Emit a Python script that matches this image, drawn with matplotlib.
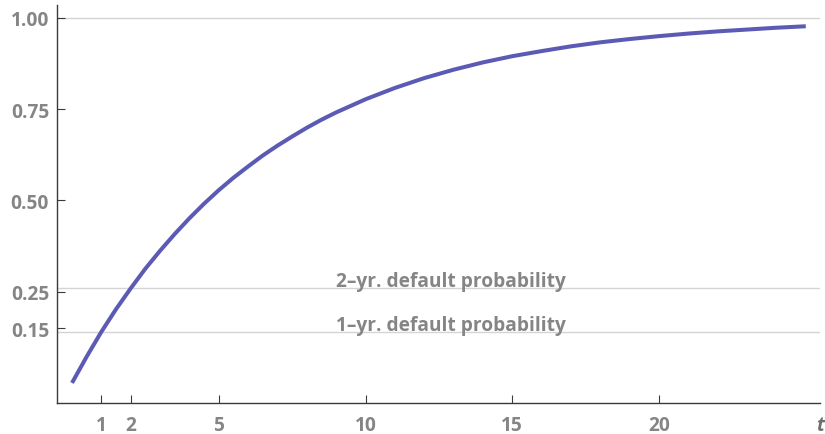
import numpy as np
import matplotlib
matplotlib.use("Agg")
import matplotlib.pyplot as plt

# cumulative default probability
t_years = [0, 0.5, 1, 1.5, 2, 2.5, 3, 3.5, 4, 4.5, 5, 5.5, 6, 6.5, 7, 7.5,
           8, 8.5, 9, 9.5, 10, 11, 12, 13, 14, 15, 16, 17, 18, 19, 20,
           21, 22, 23, 24, 25]
default_prob = [0.000, 0.072, 0.140, 0.202, 0.259, 0.313, 0.362, 0.408,
                0.451, 0.491, 0.528, 0.562, 0.593, 0.623, 0.650, 0.675,
                0.699, 0.721, 0.741, 0.759, 0.777, 0.808, 0.835, 0.858,
                0.878, 0.895, 0.909, 0.922, 0.933, 0.942, 0.950, 0.957,
                0.963, 0.968, 0.973, 0.977]

# reference lines and their labels
grid_levels = [1.00, 0.259, 0.139]
annot_labels = ["2\u2013yr. default probability", "1\u2013yr. default probability"]
annot_levels = [0.259, 0.139]
annot_x = 9.0

x_ticks = [1, 2, 5, 10, 15, 20]
y_ticks = [0.15, 0.25, 0.50, 0.75, 1.00]
y_tick_labels = ["0.15", "0.25", "0.50", "0.75", "1.00"]

LINE_COLOR = "#5B5BB5"
TEXT_GRAY = "#858585"
AXIS_COLOR = "#3a3a3a"

plt.rcParams['font.family'] = ['Open Sans', 'DejaVu Sans']

fig = plt.figure(figsize=(8.25, 4.35), dpi=100)
ax = fig.add_axes([0.0695, 0.0713, 0.925, 0.9147])

for lvl in grid_levels:
    ax.axhline(lvl, color="#d4d4d4", linewidth=1.0, zorder=1)

ax.plot(t_years, default_prob, color=LINE_COLOR, linewidth=2.9,
        solid_capstyle='butt', solid_joinstyle='round', zorder=3)

for lbl, lvl in zip(annot_labels, annot_levels):
    ax.annotate(lbl, xy=(annot_x, lvl), xytext=(0, 1.5),
                textcoords='offset points', ha='left', va='baseline',
                fontsize=13.8, fontweight='bold', color=TEXT_GRAY, zorder=4)

ax.set_xlim(-0.5, 25.5)
ax.set_ylim(-0.055, 1.035)

ax.set_xticks(x_ticks)
ax.set_xticklabels([str(v) for v in x_ticks])
ax.set_yticks(y_ticks)
ax.set_yticklabels(y_tick_labels)

ax.tick_params(direction='in', length=5.8, width=0.8, color=AXIS_COLOR,
               labelsize=13.8, labelcolor=TEXT_GRAY)
ax.tick_params(axis='x', pad=9)
ax.tick_params(axis='y', pad=6)
for lab in ax.get_xticklabels() + ax.get_yticklabels():
    lab.set_fontweight('bold')

for side in ['top', 'right']:
    ax.spines[side].set_visible(False)
for side in ['left', 'bottom']:
    ax.spines[side].set_color(AXIS_COLOR)
    ax.spines[side].set_linewidth(1.0)

ax.annotate("t", xy=(1, 0), xycoords='axes fraction', xytext=(0, -9),
            textcoords='offset points', ha='center', va='top',
            fontsize=13.8, fontweight='bold', fontstyle='italic',
            color="#6f6f6f")

fig.savefig("out.png", dpi=100)
